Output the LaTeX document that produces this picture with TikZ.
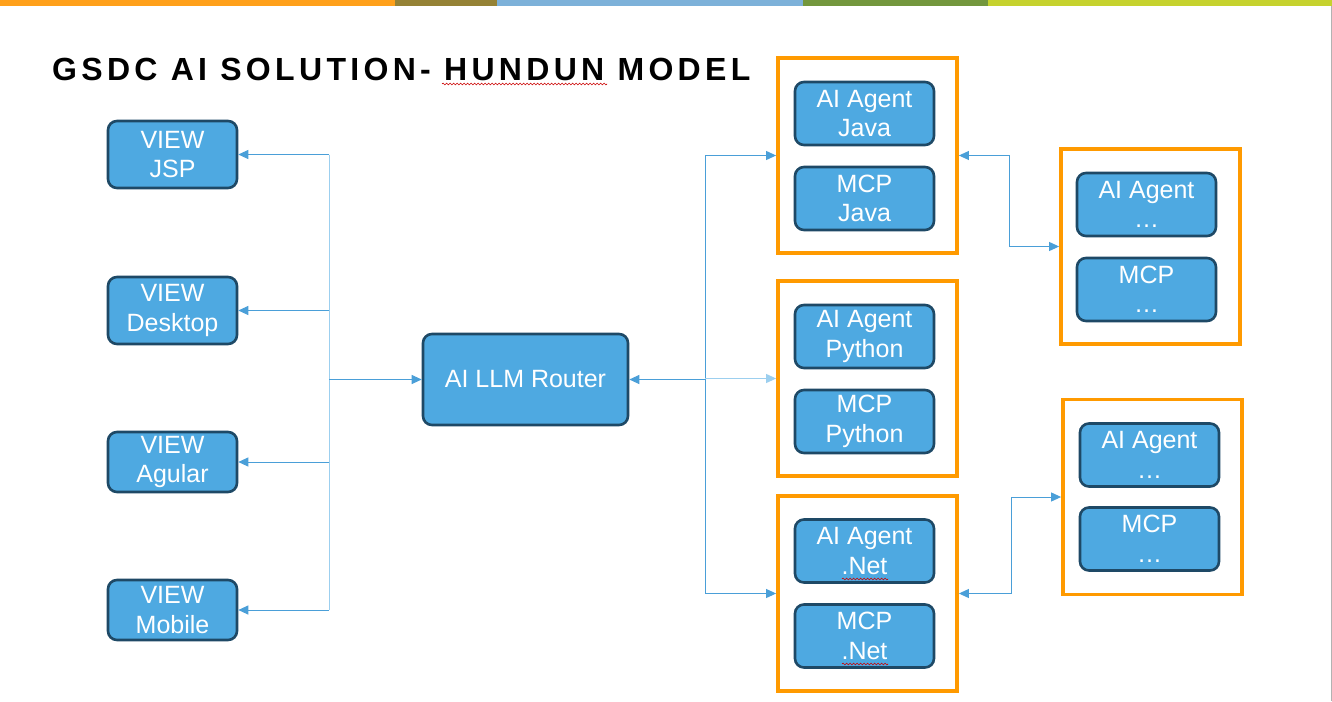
\documentclass[tikz,border=0pt]{standalone}
\usepackage{fontspec}
\setmainfont{Liberation Sans}
\newfontfamily\titlefont[LetterSpace=13.5]{Liberation Sans}
\usetikzlibrary{arrows.meta,decorations.pathmorphing}
\definecolor{boxblue}{HTML}{4EA9E1}
\definecolor{navy}{HTML}{1E4966}
\definecolor{conn}{HTML}{4A9FD8}
\definecolor{connlight}{HTML}{9CCFEF}
\definecolor{frameorange}{HTML}{FF9A00}
\definecolor{barorange}{HTML}{FFA01A}
\definecolor{barolive}{HTML}{958235}
\definecolor{barblue}{HTML}{7DB1D9}
\definecolor{bargreen}{HTML}{73973D}
\definecolor{barlime}{HTML}{C6D22E}
\tikzset{
  bluebox/.style={rectangle, rounded corners=9pt, fill=boxblue, draw=navy, line width=2.6pt,
    text=white, align=center, inner sep=0pt, font=\fontsize{25}{29.5}\selectfont},
  viewbox/.style={bluebox, minimum width=129pt},
  innerbox/.style={bluebox, minimum width=139pt, minimum height=63pt},
  framebox/.style={rectangle, draw=frameorange, line width=3.8pt, minimum width=179pt, minimum height=195pt, inner sep=0pt},
  wire/.style={draw=conn, line width=1pt},
  arrowwire/.style={wire, -{Triangle[length=10pt,width=9pt]}},
  twoarrow/.style={wire, {Triangle[length=10pt,width=9pt]}-{Triangle[length=10pt,width=9pt]}},
  squiggle/.style={draw=red!80!black, line width=0.6pt, decorate, decoration={snake, segment length=3.5pt, amplitude=0.9pt}}
}
\begin{document}
\begin{tikzpicture}[x=1pt,y=-1pt]
\useasboundingbox (0,0) rectangle (1332,701);
\fill[white] (0,0) rectangle (1332,701);
% top bar
\fill[barorange] (0,0) rectangle (395,6);
\fill[barolive] (395,0) rectangle (497,6);
\fill[barblue] (497,0) rectangle (803,6);
\fill[bargreen] (803,0) rectangle (988,6);
\fill[barlime] (988,0) rectangle (1332,6);
\draw[gray!60, line width=0.8pt] (1331.4,6) -- (1331.4,701);
% title
\node[anchor=base west, inner sep=0pt, font={\titlefont\bfseries\fontsize{32}{38}\selectfont}] (title) at (52,80) {GSDC AI SOLUTION- HUNDUN MODEL};
\draw[squiggle] (442,84) -- (607,84);
% view nodes
\node[viewbox, minimum height=67pt] (jsp) at (172.5,154.5) {VIEW\\JSP};
\node[viewbox, minimum height=67pt] (desk) at (172.5,310.5) {VIEW\\Desktop};
\node[viewbox, minimum height=60pt] (agul) at (172.5,462) {VIEW\\Agular};
\node[viewbox, minimum height=60pt] (mob) at (172.5,610) {VIEW\\Mobile};
% router
\node[bluebox, minimum width=205pt, minimum height=91pt] (router) at (525.5,379.5) {AI LLM Router};
% frames
\node[framebox] (f1) at (867.5,155.5) {};
\node[framebox] (f2) at (867.5,378.5) {};
\node[framebox] (f3) at (867.5,593.5) {};
\node[framebox] (f4) at (1150.5,246.5) {};
\node[framebox] (f5) at (1152.5,497) {};
% inner nodes
\node[innerbox] (aj) at (864.5,113.5) {AI Agent\\Java};
\node[innerbox] (mj) at (864.5,198.5) {MCP\\Java};
\node[innerbox] (ap) at (864.5,336.5) {AI Agent\\Python};
\node[innerbox] (mp) at (864.5,421.5) {MCP\\Python};
\node[innerbox] (an) at (864.5,551) {AI Agent\\.Net};
\node[innerbox] (mn) at (864.5,636) {MCP\\.Net};
\node[innerbox] (ax1) at (1146.5,204.5) {AI Agent\\…};
\node[innerbox] (mx1) at (1146.5,289.5) {MCP\\…};
\node[innerbox] (ax2) at (1149.5,455) {AI Agent\\…};
\node[innerbox] (mx2) at (1149.5,539) {MCP\\…};
\draw[squiggle] (842,579) -- (888,579);
\draw[squiggle] (842,664) -- (888,664);
% left bus
\coordinate (lb) at (329,379.5);
\draw[wire, draw=connlight] (jsp.east -| lb) -- (mob.east -| lb);
\draw[arrowwire] (jsp.east -| lb) -- (jsp.east);
\draw[arrowwire] (desk.east -| lb) -- (desk.east);
\draw[arrowwire] (agul.east -| lb) -- (agul.east);
\draw[arrowwire] (mob.east -| lb) -- (mob.east);
\draw[arrowwire] (lb) -- (router.west);
% right bus
\coordinate (rb) at (705,379.5);
\draw[wire] (rb |- f1.west) -- (rb |- f3.west);
\draw[arrowwire] (rb) -- (router.east);
\draw[arrowwire] (rb |- f1.west) -- (f1.west);
\draw[arrowwire, draw=connlight] (rb |- f2.west) -- (f2.west);
\draw[arrowwire] (rb |- f3.west) -- (f3.west);
% side links
\coordinate (c1) at (1009,200);
\draw[twoarrow] (f1.east) -- (f1.east -| c1) -- (f4.west -| c1) -- (f4.west);
\coordinate (c2) at (1011,545);
\draw[twoarrow] (f3.east) -- (f3.east -| c2) -- (f5.west -| c2) -- (f5.west);
\end{tikzpicture}
\end{document}
